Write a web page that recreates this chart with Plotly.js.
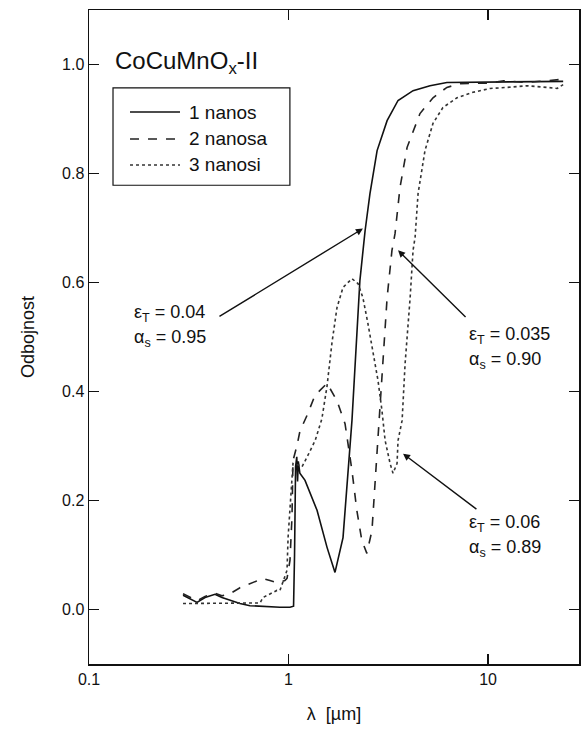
<!DOCTYPE html>
<html>
<head>
<meta charset="utf-8">
<script src="https://cdn.plot.ly/plotly-3.0.1.min.js"></script>
<style>html,body{margin:0;padding:0;background:#fff;}#chart{width:581px;height:733px;}</style>
</head>
<body>
<div id="chart"></div>
<script>
// Wavelength (µm) and reflectance for each sample
const x1 = [0.296,0.321,0.348,0.3815,0.428,0.464,0.509,0.571,0.641,0.695,0.807,0.906,1.017,1.06,1.072,1.078,1.085,1.10,1.11,1.12,1.14,1.21,1.39,1.56,1.71,1.876,1.987,2.08,2.28,2.42,2.56,2.78,3.12,3.54,4.21,5.12,6.22,10.0,15.7,23.8];
const y1 = [0.026,0.020,0.013,0.022,0.028,0.022,0.017,0.011,0.007,0.006,0.005,0.004,0.004,0.006,0.10,0.20,0.262,0.280,0.235,0.272,0.250,0.237,0.182,0.114,0.068,0.132,0.255,0.347,0.604,0.695,0.763,0.842,0.897,0.934,0.952,0.961,0.967,0.968,0.968,0.969];

const x2 = [0.296,0.321,0.348,0.3815,0.428,0.464,0.509,0.571,0.641,0.695,0.745,0.807,0.875,0.959,0.983,1.017,1.041,1.053,1.103,1.142,1.238,1.358,1.56,1.75,1.92,2.08,2.20,2.33,2.47,2.62,2.71,2.81,2.98,3.12,3.30,3.42,3.62,3.93,4.56,5.30,6.22,7.24,10.23,12.0,15.7,19.8,23.8];
const y2 = [0.029,0.022,0.016,0.024,0.030,0.025,0.029,0.040,0.048,0.053,0.057,0.053,0.049,0.053,0.057,0.09,0.17,0.273,0.301,0.328,0.356,0.393,0.415,0.383,0.341,0.255,0.182,0.127,0.103,0.145,0.224,0.310,0.451,0.572,0.659,0.690,0.774,0.848,0.910,0.939,0.958,0.965,0.966,0.970,0.967,0.971,0.973];

const x3 = [0.296,0.40,0.55,0.72,0.745,0.875,0.906,0.983,0.995,1.017,1.041,1.053,1.12,1.169,1.24,1.36,1.47,1.56,1.652,1.75,1.876,2.08,2.23,2.36,2.50,2.65,2.81,2.94,3.05,3.23,3.34,3.50,3.54,3.71,3.84,4.07,4.21,4.31,4.46,4.83,5.30,5.94,6.99,8.41,10.23,12.45,15.7,19.8,22.2,23.8];
const y3 = [0.011,0.011,0.011,0.012,0.022,0.035,0.035,0.072,0.132,0.182,0.224,0.268,0.265,0.262,0.280,0.310,0.350,0.410,0.490,0.554,0.591,0.607,0.598,0.572,0.525,0.475,0.420,0.365,0.310,0.268,0.250,0.268,0.310,0.347,0.451,0.572,0.659,0.683,0.763,0.842,0.892,0.921,0.939,0.949,0.956,0.958,0.961,0.958,0.956,0.963];

const seriesNames = ['1 nanos','2 nanosa','3 nanosi'];
const xTickVals = [0.1,1,10];
const xTickText = ['0.1','1','10'];
const yTickVals = [0,0.2,0.4,0.6,0.8,1.0];
const yTickText = ['0.0','0.2','0.4','0.6','0.8','1.0'];

// Labels with arrow tips and tails (data coords)
const labelLines = [
  ['ε<sub>T</sub> = 0.04','α<sub>s</sub> = 0.95'],
  ['ε<sub>T</sub> = 0.035','α<sub>s</sub> = 0.90'],
  ['ε<sub>T</sub> = 0.06','α<sub>s</sub> = 0.89']
];
const labelPos = [[0.164,0.543],[7.85,0.503],[7.85,0.158]];
const arrowTip = [[2.36,0.699],[3.54,0.659],[3.75,0.286]];
const arrowTail = [[0.443,0.536],[7.85,0.534],[8.9,0.182]];

const FONT = 'Liberation Sans, Arial, Helvetica, sans-serif';
const INK = '#111';
const styles = [
  {color:INK, width:1.6, dash:'solid'},
  {color:'#222', width:1.6, dash:'dash'},
  {color:'#333', width:1.6, dash:'dot'}
];
const xs=[x1,x2,x3], ys=[y1,y2,y3];
const data = xs.map((x,i)=>({x:x, y:ys[i], type:'scatter', mode:'lines', name:seriesNames[i], showlegend:false,
  line:styles[i]}));

const annotations = [];
const shapes = [];
annotations.push({xref:'paper', yref:'paper', x:0.049, y:0.92, xanchor:'left', yanchor:'middle',
  text:'CoCuMnO<sub>x</sub>-II', showarrow:false, font:{family:FONT, size:24, color:INK}});
// legend box, samples and names
shapes.push({type:'rect', xref:'paper', yref:'paper', x0:0.049, x1:0.41, y0:0.732, y1:0.881,
  line:{color:INK, width:1.2}, fillcolor:'rgba(0,0,0,0)', layer:'above'});
const legendRowY = [0.844, 0.8028, 0.763];
seriesNames.forEach((n,i)=>{
  shapes.push({type:'line', xref:'paper', yref:'paper', x0:0.0837, x1:0.1857, y0:legendRowY[i], y1:legendRowY[i],
    line:{color:styles[i].color, width:styles[i].width, dash:styles[i].dash}, layer:'above'});
  annotations.push({xref:'paper', yref:'paper', x:0.2, y:legendRowY[i], xanchor:'left', yanchor:'middle',
    text:n, showarrow:false, font:{family:FONT, size:19, color:INK}});
});
labelLines.forEach((lines,i)=>{
  lines.forEach((t,j)=>{
    annotations.push({xref:'x', yref:'y', x:Math.log10(labelPos[i][0]), y:labelPos[i][1]-j*0.046,
      xanchor:'left', yanchor:'middle', text:t, showarrow:false, font:{family:FONT, size:18, color:INK}});
  });
  annotations.push({xref:'x', yref:'y', axref:'x', ayref:'y',
    x:Math.log10(arrowTip[i][0]), y:arrowTip[i][1],
    ax:Math.log10(arrowTail[i][0]), ay:arrowTail[i][1],
    text:'', showarrow:true, arrowhead:2, arrowsize:1, arrowwidth:1.4, arrowcolor:INK});
});

const xRange = [-1,1.456], yRange = [-0.1,1.1];
const layout = {
  width:581, height:733,
  margin:{l:89, r:2, t:10, b:69, autoexpand:false},
  paper_bgcolor:'#fff', plot_bgcolor:'#fff',
  font:{family:FONT, color:INK},
  showlegend:false,
  xaxis:{type:'log', range:xRange, tickmode:'array', tickvals:xTickVals, ticktext:xTickText,
    ticks:'inside', ticklen:10, tickwidth:1.5, tickcolor:INK,
    showline:true, linecolor:INK, linewidth:1.5, mirror:'ticks', showgrid:false, zeroline:false,
    tickfont:{family:FONT, size:16, color:INK},
    title:{text:'λ  [µm]', font:{family:FONT, size:18, color:INK}, standoff:20}},
  yaxis:{range:yRange, tickmode:'array', tickvals:yTickVals, ticktext:yTickText,
    ticks:'inside', ticklen:10, tickwidth:1.5, tickcolor:INK,
    showline:true, linecolor:INK, linewidth:1.5, mirror:'ticks', showgrid:false, zeroline:false,
    tickfont:{family:FONT, size:16, color:INK},
    title:{text:'Odbojnost', font:{family:FONT, size:18, color:INK}, standoff:22}},
  shapes:shapes,
  annotations:annotations
};
Plotly.newPlot('chart', data, layout, {displayModeBar:false, staticPlot:true});
</script>
</body>
</html>
